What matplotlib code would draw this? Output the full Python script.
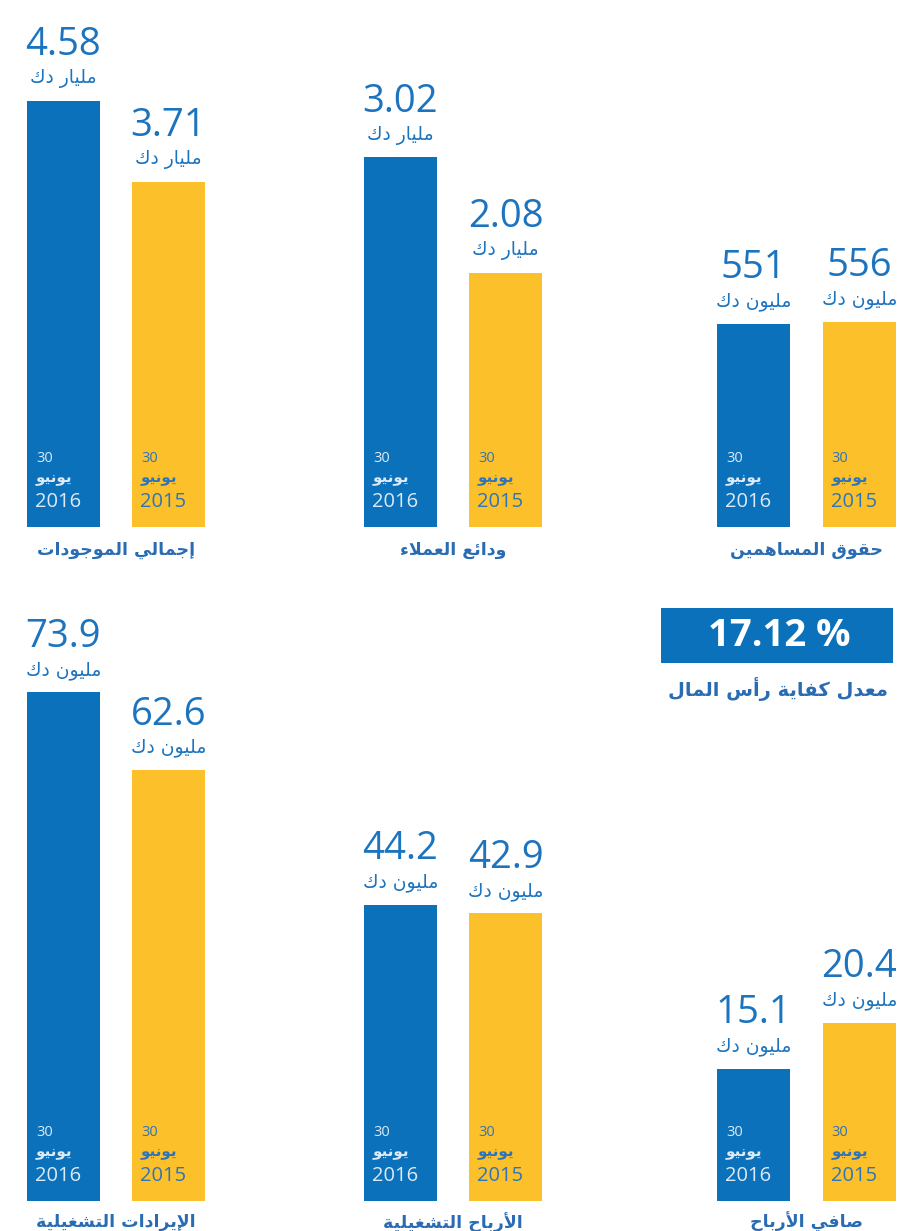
import matplotlib
matplotlib.use("Agg")
import matplotlib.pyplot as plt
from matplotlib.patches import Rectangle

# ---- data -------------------------------------------------------------
categories = ["إجمالي الموجودات", "ودائع العملاء", "حقوق المساهمين",
              "الإيرادات التشغيلية", "الأرباح التشغيلية", "صافي الأرباح"]
values_2016 = [4.58, 3.02, 551, 73.9, 44.2, 15.1]
values_2015 = [3.71, 2.08, 556, 62.6, 42.9, 20.4]
units = ["مليار دك", "مليار دك", "مليون دك",
         "مليون دك", "مليون دك", "مليون دك"]
years = ["2016", "2015"]
day = "30"
month = "يونيو"
car_value = "17.12 %"
car_label = "معدل كفاية رأس المال"

# ---- style ------------------------------------------------------------
BLUE = "#0b71bb"
YELLOW = "#fcc12a"
NUM_BLUE = "#1c74bf"
LABEL_BLUE = "#2a6cb3"
IN_BLUE_TXT = "#dce9f6"
IN_YEL_TXT = "#2f74b8"
NUM_FONT = ["Open Sans", "DejaVu Sans"]
AR_FONT = ["DejaVu Sans"]

# ---- minimal arabic shaping (matplotlib has no text shaping) ----------
RIGHT_ONLY = {"\u0622": 0xFE81, "\u0623": 0xFE83, "\u0624": 0xFE85,
              "\u0625": 0xFE87, "\u0627": 0xFE8D, "\u0629": 0xFE93,
              "\u062F": 0xFEA9, "\u0630": 0xFEAB, "\u0631": 0xFEAD,
              "\u0632": 0xFEAF, "\u0648": 0xFEED, "\u0649": 0xFEEF}
DUAL = {"\u0626": 0xFE89, "\u0628": 0xFE8F, "\u062A": 0xFE95,
        "\u062B": 0xFE99, "\u062C": 0xFE9D, "\u062D": 0xFEA1,
        "\u062E": 0xFEA5, "\u0633": 0xFEB1, "\u0634": 0xFEB5,
        "\u0635": 0xFEB9, "\u0636": 0xFEBD, "\u0637": 0xFEC1,
        "\u0638": 0xFEC5, "\u0639": 0xFEC9, "\u063A": 0xFECD,
        "\u0641": 0xFED1, "\u0642": 0xFED5, "\u0643": 0xFED9,
        "\u0644": 0xFEDD, "\u0645": 0xFEE1, "\u0646": 0xFEE5,
        "\u0647": 0xFEE9, "\u064A": 0xFEF1}
LAM_ALEF = {"\u0622": 0xFEF5, "\u0623": 0xFEF7,
            "\u0625": 0xFEF9, "\u0627": 0xFEFB}


def shape(text):
    units_ = []
    i = 0
    while i < len(text):
        c = text[i]
        if c == "\u0644" and i + 1 < len(text) and text[i + 1] in LAM_ALEF:
            units_.append((LAM_ALEF[text[i + 1]], "right"))
            i += 2
            continue
        if c in DUAL:
            units_.append((DUAL[c], "dual"))
        elif c in RIGHT_ONLY:
            units_.append((RIGHT_ONLY[c], "right"))
        elif c == "\u0621":
            units_.append((0xFE80, "none"))
        else:
            units_.append((c, None))
        i += 1
    out = []
    for k, (base, kind) in enumerate(units_):
        if kind is None:
            out.append(base)
            continue
        if kind == "none":
            out.append(chr(base))
            continue
        prev_j = k > 0 and units_[k - 1][1] == "dual"
        next_j = (kind == "dual" and k + 1 < len(units_)
                  and units_[k + 1][1] in ("dual", "right"))
        off = 0
        if prev_j and next_j:
            off = 3
        elif prev_j:
            off = 1
        elif next_j:
            off = 2
        out.append(chr(base + off))
    return "".join(reversed(out))


# ---- layout (pixels) --------------------------------------------------
W, H = 900, 1231
col_left = [27, 364, 717]
col_width = [178, 178, 179]
row_base = [527, 1201]
row_height = [520, 560]
ylim_top = [5.585, 4.25, 1410.0, 81.35, 83.5, 64.0]
bar_w = 0.695

fig = plt.figure(figsize=(W / 100, H / 100), dpi=100)


def draw_panel(idx):
    r, c = divmod(idx, 3)
    x0, w = col_left[c], col_width[c]
    yb, h = row_base[r], row_height[r]
    ax = fig.add_axes([x0 / W, 1 - yb / H, w / W, h / H])
    vals = [values_2016[idx], values_2015[idx]]
    colors = [BLUE, YELLOW]
    ax.bar([0, 1], vals, width=bar_w, color=colors, linewidth=0)
    ax.set_xlim(-bar_w / 2, 1 + bar_w / 2)
    ax.set_ylim(0, ylim_top[idx])
    ax.axis("off")

    for i, v in enumerate(vals):
        ax.annotate(f"{v:g}", xy=(i, v), xytext=(0, 40),
                    textcoords="offset points", ha="center", va="center",
                    fontsize=27.5, color=NUM_BLUE, family=NUM_FONT,
                    annotation_clip=False)
        ax.annotate(shape(units[idx]), xy=(i, v), xytext=(0, 16),
                    textcoords="offset points", ha="center", va="center",
                    fontsize=13.5, color=NUM_BLUE, family=AR_FONT,
                    annotation_clip=False)
        txt_col = IN_BLUE_TXT if i == 0 else IN_YEL_TXT
        left = i - bar_w / 2
        ax.annotate(day, xy=(left, 0), xytext=(6.5, 49.5),
                    textcoords="offset points", ha="left", va="center",
                    fontsize=10.5, color=txt_col, family=NUM_FONT)
        ax.annotate(shape(month), xy=(left, 0), xytext=(6.5, 35),
                    textcoords="offset points", ha="left", va="center",
                    fontsize=11, color=txt_col, family=AR_FONT,
                    fontweight="bold")
        ax.annotate(years[i], xy=(left, 0), xytext=(6, 18),
                    textcoords="offset points", ha="left", va="center",
                    fontsize=14.5, color=txt_col, family=NUM_FONT)

    label_y = [550, 1222][r]
    fig.text((x0 + w / 2) / W, 1 - label_y / H, shape(categories[idx]),
             ha="center", va="center", fontsize=12.5, fontweight="bold",
             color=LABEL_BLUE, family=AR_FONT)


for k in range(len(categories)):
    draw_panel(k)

# capital adequacy box
fig.add_artist(Rectangle((661 / W, 1 - 663 / H), 232 / W, 55 / H,
                         transform=fig.transFigure, color=BLUE, lw=0))
fig.text(779 / W, 1 - 636 / H, car_value, ha="center", va="center",
         fontsize=27.5, fontweight="bold", color="white", family=NUM_FONT)
fig.text(778 / W, 1 - 689 / H, shape(car_label), ha="center", va="center",
         fontsize=14, fontweight="bold", color=LABEL_BLUE, family=AR_FONT)

fig.savefig("out.png", dpi=100, facecolor="white")
